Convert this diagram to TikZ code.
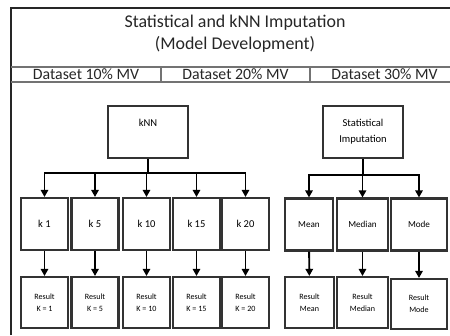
\documentclass[tikz,border=0pt]{standalone}
\usepackage{fontspec}
\setmainfont{Carlito}
\usepackage{tikz}
\usetikzlibrary{arrows.meta,positioning}
\tikzset{
    frameline/.style={
    draw=black!85,line width=1.1pt
    },
    gridline/.style={
    draw=black!55,line width=0.7pt
    },
    method/.style={
    rectangle,draw=black!80,line width=1.2pt,minimum width=1.6cm,minimum height=1.04cm
    },
    kvalue/.style={
    rectangle,draw=black!80,line width=1.2pt,minimum width=0.94cm,minimum height=1.04cm,
    font=\fontsize{6}{7}\selectfont
    },
    result/.style={
    rectangle,draw=black!80,line width=1.2pt,minimum width=0.94cm,minimum height=1.02cm,
    align=center,font=\fontsize{4.6}{6.6}\selectfont
    },
    toplabel/.style={
    anchor=north,inner sep=0pt,yshift=-7.4pt,align=center,font=\fontsize{6}{9.4}\selectfont
    },
}

\begin{document}
\begin{tikzpicture}[x=0.02cm, y=-0.02cm, >={Triangle[length=4pt,width=4.2pt]}, line width=1.1pt]
   \clip (0,0) rectangle (450,335);
   % frame and header
   \draw[frameline] (11,335) -- (11,8) -- (450,8);
   \draw[gridline] (11,67) -- (450,67);
   \draw[gridline] (11,82) -- (450,82);
   \draw[gridline] (161,67) -- (161,82);
   \draw[gridline] (310,67) -- (310,82);
   \node[align=center,font=\fontsize{10.2}{12.5}\selectfont,text=black!85] (title) at (235,34) {Statistical and kNN Imputation\\(Model Development)};
   \node[font=\fontsize{9}{11}\selectfont,text=black!85] (mv10) at (86,74) {Dataset 10\% MV};
   \node[font=\fontsize{9}{11}\selectfont,text=black!85] (mv20) at (235.5,74) {Dataset 20\% MV};
   \node[font=\fontsize{9}{11}\selectfont,text=black!85] (mv30) at (384.5,74) {Dataset 30\% MV};

   % kNN branch
   \node[method,label={[toplabel]north:kNN}] (knn) at (148,132) {};
   \node[kvalue] (k1) at (44.5,224) {k 1};
   \node[kvalue] (k5) at (95,224) {k 5};
   \node[kvalue] (k10) at (146.5,224) {k 10};
   \node[kvalue] (k15) at (196.5,224) {k 15};
   \node[kvalue] (k20) at (245.5,224) {k 20};
   \node[result] (r1) at (44.5,302.5) {Result\\K = 1};
   \node[result] (r5) at (95,302.5) {Result\\K = 5};
   \node[result] (r10) at (146.5,302.5) {Result\\K = 10};
   \node[result] (r15) at (196.5,302.5) {Result\\K = 15};
   \node[result] (r20) at (245.5,302.5) {Result\\K = 20};
   \coordinate (knnbus) at (148,173);

   % statistical branch
   \node[method,label={[toplabel]north:Statistical\\Imputation}] (stat) at (363,132) {};
   \node[kvalue,minimum width=0.96cm,font=\fontsize{5.2}{6}\selectfont] (mean) at (309,224.5) {Mean};
   \node[kvalue,minimum width=1.02cm,font=\fontsize{5.2}{6}\selectfont] (median) at (362.5,224.5) {Median};
   \node[kvalue,minimum width=1.12cm,font=\fontsize{5.2}{6}\selectfont] (mode) at (419,224.5) {Mode};
   \node[result,minimum width=0.98cm] (rmean) at (309.5,302.5) {Result\\Mean};
   \node[result,minimum width=1.02cm] (rmedian) at (362.5,302.5) {Result\\Median};
   \node[result,minimum width=1.12cm,minimum height=1.0cm] (rmode) at (419,304) {Result\\Mode};
   \coordinate (statbus) at (363,175);

   \draw (knn.south) -- (knnbus);
   \foreach \k in {k1,k5,k10,k15,k20}
     \draw[->] (knnbus) -| (\k.north);
   \draw (stat.south) -- (statbus);
   \foreach \s in {mean,median,mode}
     \draw[->] (statbus) -| (\s.north);

  \path[->]
    (k1) edge (r1)
    (k5) edge (r5)
    (k10) edge (r10)
    (k15) edge (r15)
    (k20) edge (r20)
    (mean) edge (rmean)
    (median) edge (rmedian)
    (mode) edge (rmode);
\end{tikzpicture}
\end{document}
